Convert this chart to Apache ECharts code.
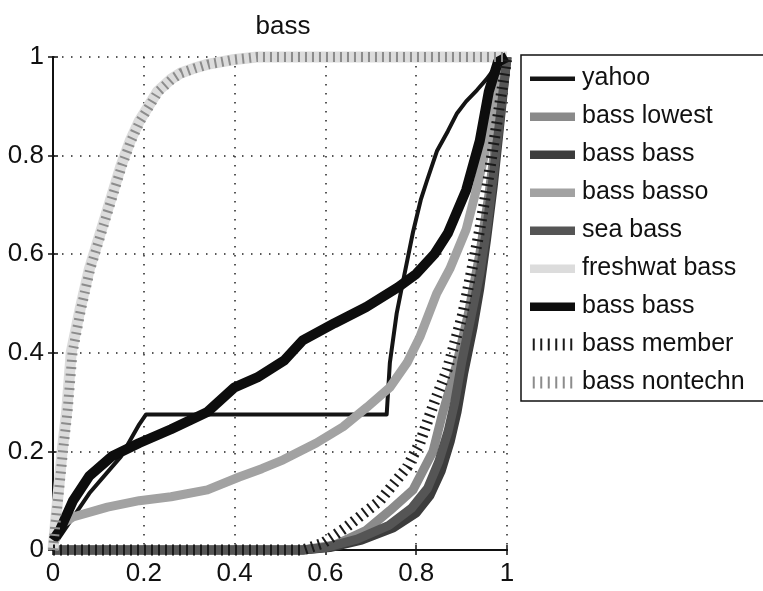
<!DOCTYPE html>
<html>
<head>
<meta charset="utf-8">
<script src="https://cdn.jsdelivr.net/npm/echarts@6/dist/echarts.min.js"></script>
<style>
  html, body { margin: 0; padding: 0; background: #fff; }
  #chart { width: 763px; height: 591px; }
</style>
</head>
<body>
<div id="chart"></div>
<script>
// values (x and y both 0..1)
const yahooX = [0, 0.01, 0.08, 0.15, 0.19, 0.205, 0.735, 0.742, 0.757, 0.771, 0.793, 0.81, 0.824, 0.846, 0.87, 0.89, 0.91, 0.934, 0.955, 0.975, 0.99, 1]
const yahooY = [0, 0.02, 0.115, 0.19, 0.255, 0.275, 0.275, 0.38, 0.48, 0.545, 0.645, 0.71, 0.75, 0.81, 0.85, 0.886, 0.91, 0.933, 0.955, 0.98, 0.995, 1]

const lowestX = [0, 0.55, 0.62, 0.69, 0.742, 0.793, 0.837, 0.859, 0.89, 0.915, 0.94, 0.96, 0.98, 1]
const lowestY = [0, 0, 0.01, 0.04, 0.08, 0.122, 0.2, 0.28, 0.38, 0.48, 0.6, 0.72, 0.86, 1]

const bassGrayX = [0, 0.55, 0.61, 0.68, 0.75, 0.8, 0.83, 0.855, 0.875, 0.89, 0.905, 0.925, 0.94, 0.955, 0.97, 0.985, 1]
const bassGrayY = [0, 0, 0.005, 0.02, 0.045, 0.075, 0.11, 0.16, 0.22, 0.28, 0.36, 0.45, 0.53, 0.63, 0.74, 0.87, 1]

const bassoX = [0, 0.015, 0.044, 0.12, 0.19, 0.26, 0.34, 0.41, 0.46, 0.507, 0.58, 0.639, 0.692, 0.742, 0.78, 0.808, 0.845, 0.874, 0.91, 0.935, 0.96, 0.98, 1]
const bassoY = [0.03, 0.05, 0.067, 0.087, 0.1, 0.108, 0.122, 0.148, 0.165, 0.183, 0.217, 0.25, 0.29, 0.33, 0.38, 0.432, 0.52, 0.57, 0.65, 0.74, 0.84, 0.93, 1]

const seaX = [0, 0.55, 0.6, 0.67, 0.74, 0.79, 0.825, 0.85, 0.87, 0.885, 0.9, 0.92, 0.94, 0.955, 0.97, 0.985, 1]
const seaY = [0, 0, 0.005, 0.022, 0.05, 0.085, 0.125, 0.18, 0.24, 0.3, 0.38, 0.47, 0.56, 0.65, 0.76, 0.88, 1]

const freshX = [0, 0.005, 0.011, 0.02, 0.03, 0.04, 0.06, 0.08, 0.1, 0.12, 0.15, 0.17, 0.19, 0.21, 0.23, 0.26, 0.28, 0.31, 0.34, 0.37, 0.4, 0.45, 1]
const freshY = [0, 0.05, 0.11, 0.2, 0.28, 0.4, 0.49, 0.57, 0.63, 0.69, 0.78, 0.83, 0.87, 0.9, 0.93, 0.955, 0.967, 0.977, 0.985, 0.99, 0.995, 1, 1]

const bassBlackX = [0, 0.015, 0.044, 0.08, 0.13, 0.19, 0.26, 0.34, 0.4, 0.45, 0.51, 0.55, 0.62, 0.69, 0.76, 0.8, 0.84, 0.87, 0.91, 0.94, 0.96, 0.98, 1]
const bassBlackY = [0.02, 0.04, 0.1, 0.15, 0.19, 0.217, 0.245, 0.28, 0.33, 0.35, 0.385, 0.425, 0.46, 0.493, 0.533, 0.56, 0.6, 0.643, 0.73, 0.83, 0.93, 0.99, 1]

const memberX = [0, 0.55, 0.595, 0.647, 0.72, 0.78, 0.808, 0.84, 0.868, 0.903, 0.925, 0.94, 0.96, 0.98, 1]
const memberY = [0, 0, 0.014, 0.047, 0.1, 0.168, 0.217, 0.3, 0.365, 0.48, 0.58, 0.65, 0.76, 0.88, 1]

const nontechX = [0, 0.005, 0.012, 0.022, 0.032, 0.043, 0.062, 0.082, 0.102, 0.122, 0.152, 0.172, 0.192, 0.212, 0.232, 0.262, 0.282, 0.312, 0.342, 0.372, 0.4, 0.45, 1]
const nontechY = [0, 0.05, 0.11, 0.2, 0.28, 0.4, 0.49, 0.57, 0.63, 0.69, 0.78, 0.83, 0.87, 0.9, 0.93, 0.955, 0.967, 0.977, 0.985, 0.99, 0.995, 1, 1]

// second "bass bass" carries a trailing space so the legend keeps both entries
const seriesNames = ['yahoo', 'bass lowest', 'bass bass', 'bass basso', 'sea bass', 'freshwat bass', 'bass bass ', 'bass member', 'bass nontechn']

const pairs = (xs, ys) => xs.map((x, i) => [x, ys[i]])

// legend swatches
const thinIcon = 'path://M0,0L45,0L45,0.05Z M0,4h45v4.5h-45z M0,11.95L45,12L0,12Z'
const thickIcon = 'path://M0,0L45,0L45,0.05Z M0,2h45v8.5h-45z M0,11.95L45,12L0,12Z'
const hatchIcon = 'path://M0,0h2v12h-2z M7.5,0h2v12h-2z M15,0h2v12h-2z M22.5,0h2v12h-2z M30,0h2v12h-2z M37.5,0h2v12h-2z'

const mk = (name, xs, ys, color, width, dash) => ({
  name: name,
  type: 'line',
  symbol: 'none',
  clip: false,
  data: pairs(xs, ys),
  lineStyle: { color: color, width: width, type: dash || 'solid', cap: 'butt', join: 'round' },
  itemStyle: { color: color },
  emphasis: { disabled: true }
})

const chart = echarts.init(document.getElementById('chart'))
const font = 'Liberation Sans, Arial, Helvetica, sans-serif'

const series = [
  mk(seriesNames[0], yahooX, yahooY, '#141414', 4),
  mk(seriesNames[1], lowestX, lowestY, '#8a8a8a', 9),
  mk(seriesNames[2], bassGrayX, bassGrayY, '#3c3c3c', 9),
  mk(seriesNames[3], bassoX, bassoY, '#a2a2a2', 9),
  mk(seriesNames[4], seaX, seaY, '#555555', 9),
  mk(seriesNames[5], freshX, freshY, '#dcdcdc', 11),
  mk(seriesNames[6], bassBlackX, bassBlackY, '#0d0d0d', 10),
  mk(seriesNames[7], memberX, memberY, '#1a1a1a', 11, [2, 5]),
  mk(seriesNames[8], nontechX, nontechY, '#8c8c8c', 10, [2, 5])
]

const legendData = series.map((s, i) => ({
  name: s.name,
  icon: i === 0 ? thinIcon : (i >= 7 ? hatchIcon : thickIcon),
  itemStyle: { color: s.lineStyle.color, borderWidth: 0 },
  lineStyle: { width: 0, opacity: 0 }
}))

const option = {
  backgroundColor: '#fff',
  animation: false,
  title: {
    text: 'bass',
    left: 278,
    top: 9,
    textAlign: 'center',
    textStyle: { fontFamily: font, fontSize: 26, fontWeight: 'normal', color: '#111' }
  },
  legend: {
    orient: 'vertical',
    left: 521,
    top: 55,
    width: 260,
    padding: [11, 20, 6, 9],
    itemWidth: 45,
    itemHeight: 12,
    itemGap: 13,
    borderColor: '#111',
    borderWidth: 1.5,
    backgroundColor: '#fff',
    selectedMode: false,
    data: legendData,
    textStyle: { fontFamily: font, fontSize: 25, color: '#111', padding: [0, 0, 0, 2] }
  },
  grid: { left: 53, top: 57, width: 454, height: 493 },
  xAxis: [
    {
      type: 'value', min: 0, max: 1, interval: 0.2,
      axisLine: { lineStyle: { color: '#111', width: 2 } },
      axisTick: { inside: true, length: 5, lineStyle: { color: '#111', width: 1.5 } },
      axisLabel: { fontFamily: font, fontSize: 26, color: '#111', margin: 11, formatter: v => String(+v.toFixed(1)) },
      splitLine: { show: true, lineStyle: { color: '#222', width: 1.5, type: [1.5, 7.5] } }
    },
    {
      type: 'value', min: 0, max: 1, interval: 0.2, position: 'top',
      axisLine: { show: true, lineStyle: { color: '#111', width: 2 } },
      axisTick: { show: true, inside: true, length: 5, lineStyle: { color: '#111', width: 1.5 } },
      axisLabel: { show: false },
      splitLine: { show: false }
    }
  ],
  yAxis: [
    {
      type: 'value', min: 0, max: 1, interval: 0.2,
      axisLine: { show: true, lineStyle: { color: '#111', width: 2 } },
      axisTick: { show: true, inside: true, length: 5, lineStyle: { color: '#111', width: 1.5 } },
      axisLabel: { fontFamily: font, fontSize: 26, color: '#111', margin: 9, formatter: v => String(+v.toFixed(1)) },
      splitLine: { show: true, lineStyle: { color: '#222', width: 1.5, type: [1.5, 7.5] } }
    },
    {
      type: 'value', min: 0, max: 1, interval: 0.2, position: 'right',
      axisLine: { show: true, lineStyle: { color: '#111', width: 2 } },
      axisTick: { show: true, inside: true, length: 5, lineStyle: { color: '#111', width: 1.5 } },
      axisLabel: { show: false },
      splitLine: { show: false }
    }
  ],
  series: series
}

chart.setOption(option)
</script>
</body>
</html>
